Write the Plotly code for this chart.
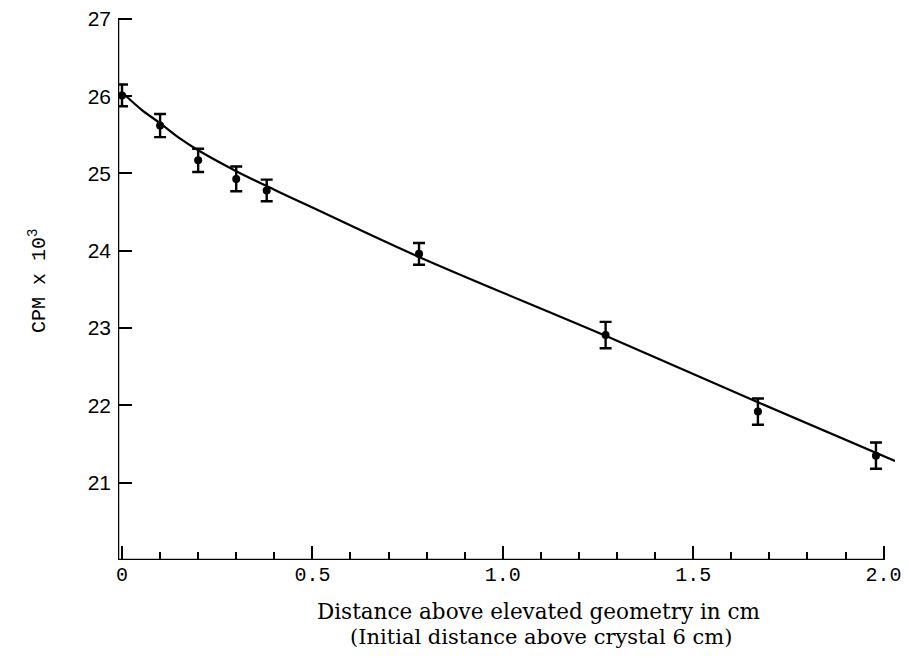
import plotly.graph_objects as go

# Measured points (x in cm, counts in thousands of CPM)
x_points = [0.0, 0.1, 0.2, 0.3, 0.38, 0.78, 1.27, 1.67, 1.98]
y_points = [26.01, 25.62, 25.17, 24.93, 24.78, 23.96, 22.91, 21.92, 21.35]
y_errors = [0.14, 0.15, 0.15, 0.16, 0.14, 0.14, 0.17, 0.17, 0.17]

# Fitted curve
x_curve = [0.0, 0.05, 0.1, 0.15, 0.2, 0.3, 0.4, 0.5, 0.78, 1.27, 1.67, 2.03]
y_curve = [26.05, 25.83, 25.65, 25.46, 25.30, 25.03, 24.79, 24.56, 23.92, 22.90, 22.04, 21.28]

x_tickvals = [0, 0.5, 1.0, 1.5, 2.0]
x_ticktext = ["0", "0.5", "1.0", "1.5", "2.0"]
y_tickvals = [21, 22, 23, 24, 25, 26, 27]
y_ticktext = ["21", "22", "23", "24", "25", "26", "27"]

X0 = -0.0105
XMAX = 2.03

fig = go.Figure()
fig.add_trace(go.Scatter(
    x=x_curve, y=y_curve, mode="lines", line=dict(color="black", width=2.2, shape="spline"),
    showlegend=False, hoverinfo="skip"))
fig.add_trace(go.Scatter(
    x=x_points, y=y_points, mode="markers",
    marker=dict(color="black", size=8),
    error_y=dict(type="data", array=y_errors, color="black", thickness=2.4, width=6),
    showlegend=False, cliponaxis=False))

# axis lines
fig.add_shape(type="line", xref="x", yref="y", x0=X0, x1=2.0, y0=20, y1=20,
              line=dict(color="black", width=2.5))
fig.add_shape(type="line", xref="x", yref="y", x0=X0, x1=X0, y0=20, y1=27,
              line=dict(color="black", width=2.5))

fig.update_xaxes(range=[X0, XMAX], showgrid=False, zeroline=False, showline=False,
                 automargin=False, ticklabeloverflow="allow",
                 tickmode="array", tickvals=x_tickvals, ticktext=x_ticktext,
                 ticks="inside", ticklen=14, tickwidth=2, tickcolor="black",
                 minor=dict(ticks="inside", ticklen=8, tickwidth=2, tickcolor="black",
                            dtick=0.1, tick0=0, showgrid=False),
                 tickfont=dict(family="Liberation Mono", size=20, color="black"))
fig.update_yaxes(range=[20, 27.05], showgrid=False, zeroline=False, showline=False,
                 automargin=False, ticklabeloverflow="allow",
                 tickmode="array", tickvals=y_tickvals, ticktext=y_ticktext,
                 ticks="inside", ticklen=14, tickwidth=2, tickcolor="black",
                 ticklabelstandoff=6,
                 tickfont=dict(family="Liberation Sans", size=21, color="black"))

fig.add_annotation(text="Distance above elevated geometry in cm", xref="paper", yref="paper",
                   x=0.541, y=-0.0954, xanchor="center", yanchor="middle", showarrow=False,
                   font=dict(family="DejaVu Serif", size=21.5, color="black"))
fig.add_annotation(text="(Initial distance above crystal 6 cm)", xref="paper", yref="paper",
                   x=0.544, y=-0.1413, xanchor="center", yanchor="middle", showarrow=False,
                   font=dict(family="DejaVu Serif", size=21, color="black"))
fig.add_annotation(text="CPM x 10<sup>3</sup>", xref="paper", yref="paper",
                   x=-0.103, y=0.512, xanchor="center", yanchor="middle", showarrow=False,
                   textangle=-90,
                   font=dict(family="Liberation Mono", size=20, color="black"))

fig.update_layout(width=909, height=658, margin=dict(l=110, r=22, t=7, b=106),
                  paper_bgcolor="white", plot_bgcolor="white")
fig.write_html("out.html")
